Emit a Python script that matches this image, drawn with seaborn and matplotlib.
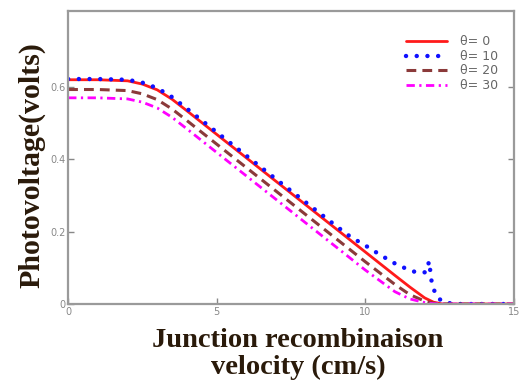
import matplotlib
matplotlib.use("Agg")
import matplotlib.pyplot as plt
import seaborn as sns
import pandas as pd

# ---- data ----
x_common = [0, 1, 2, 2.5, 3, 3.5, 4, 5, 6, 7, 8, 9, 10, 11, 11.5, 12, 12.3, 12.6, 13, 14, 15]
v_theta0 = [0.620, 0.620, 0.617, 0.608, 0.592, 0.566, 0.534, 0.469, 0.404, 0.339, 0.274,
            0.209, 0.144, 0.079, 0.047, 0.017, 0.005, 0.0, 0.0, 0.0, 0.0]
v_theta20 = [0.593, 0.593, 0.590, 0.581, 0.565, 0.539, 0.507, 0.442, 0.377, 0.312, 0.247,
             0.182, 0.117, 0.054, 0.026, 0.008, 0.002, 0.0, 0.0, 0.0, 0.0]
v_theta30 = [0.570, 0.570, 0.567, 0.558, 0.542, 0.516, 0.484, 0.419, 0.354, 0.289, 0.224,
             0.159, 0.094, 0.034, 0.014, 0.004, 0.001, 0.0, 0.0, 0.0, 0.0]
x_theta10 = [0, 1, 2, 2.5, 3, 3.5, 4, 5, 6, 7, 8, 9, 9.5, 10, 10.5, 11, 11.5, 11.8,
             12.05, 12.15, 12.25, 12.4, 12.6, 13, 14, 15]
v_theta10 = [0.622, 0.622, 0.620, 0.612, 0.597, 0.572, 0.540, 0.475, 0.410, 0.345, 0.281,
             0.217, 0.186, 0.162, 0.136, 0.112, 0.093, 0.086, 0.088, 0.118, 0.052, 0.022,
             0.006, 0.0, 0.0, 0.0]
labels = ["θ= 0", "θ= 10", "θ= 20", "θ= 30"]
x_ticks = [0, 5, 10, 15]
y_ticks = [0, 0.2, 0.4, 0.6]
y_tick_labels = ["0", "0.2", "0.4", "0.6"]

sns.set_theme(style="white")
plt.rcParams["font.family"] = ["DejaVu Sans"]

fig = plt.figure(figsize=(5.2, 3.8), dpi=100)
ax = fig.add_axes([0.131, 0.2, 0.857, 0.771])

d0 = pd.DataFrame({"x": x_common, "y": v_theta0})
d10 = pd.DataFrame({"x": x_theta10, "y": v_theta10})
d20 = pd.DataFrame({"x": x_common, "y": v_theta20})
d30 = pd.DataFrame({"x": x_common, "y": v_theta30})

sns.lineplot(data=d0, x="x", y="y", ax=ax, color="#ff1a1a", lw=2.0, label=labels[0])
sns.lineplot(data=d10, x="x", y="y", ax=ax, color="#1010ff", lw=3.2,
             linestyle=(0, (0.01, 2.4)), dash_capstyle="round", label=labels[1])
sns.lineplot(data=d20, x="x", y="y", ax=ax, color="#8b3a3a", lw=2.2,
             linestyle=(0, (3.2, 2.0)), label=labels[2])
sns.lineplot(data=d30, x="x", y="y", ax=ax, color="#ff00ff", lw=2.0,
             linestyle=(0, (3.0, 1.6, 0.8, 1.6)), label=labels[3])

ax.set_xlim(0, 15)
ax.set_ylim(0, 0.81)
ax.set_xticks(x_ticks)
ax.set_xticklabels([str(t) for t in x_ticks])
ax.set_yticks(y_ticks)
ax.set_yticklabels(y_tick_labels)
ax.tick_params(axis="both", direction="in", length=4, width=1, color="#888888",
               labelsize=7, labelcolor="#888888", pad=2)
ax.tick_params(axis="y", right=True, left=True)
ax.tick_params(axis="x", bottom=True)

for s in ax.spines.values():
    s.set_color("#9a9a9a")
    s.set_linewidth(1.6)

xlab_font = dict(family="Liberation Serif", weight="bold", size=20.5, color="#2a1a0a")
ylab_font = dict(family="Liberation Serif", weight="bold", size=21.5, color="#2a1a0a")
ax.set_xlabel("Junction recombinaison\nvelocity (cm/s)", fontdict=xlab_font,
              linespacing=1.12)
ax.xaxis.set_label_coords(0.516, -0.082, transform=ax.transAxes)
ax.xaxis.label.set_verticalalignment("top")
ax.set_ylabel("Photovoltage(volts)", fontdict=ylab_font)
ax.yaxis.set_label_coords(-0.052, 0.474, transform=ax.transAxes)

leg = ax.legend(loc="upper right", bbox_to_anchor=(0.99, 0.955), frameon=False,
                fontsize=9, handlelength=3.3, labelspacing=0.12, handletextpad=1.0)
for t in leg.get_texts():
    t.set_color("#666666")

fig.savefig("out.png", dpi=100)
